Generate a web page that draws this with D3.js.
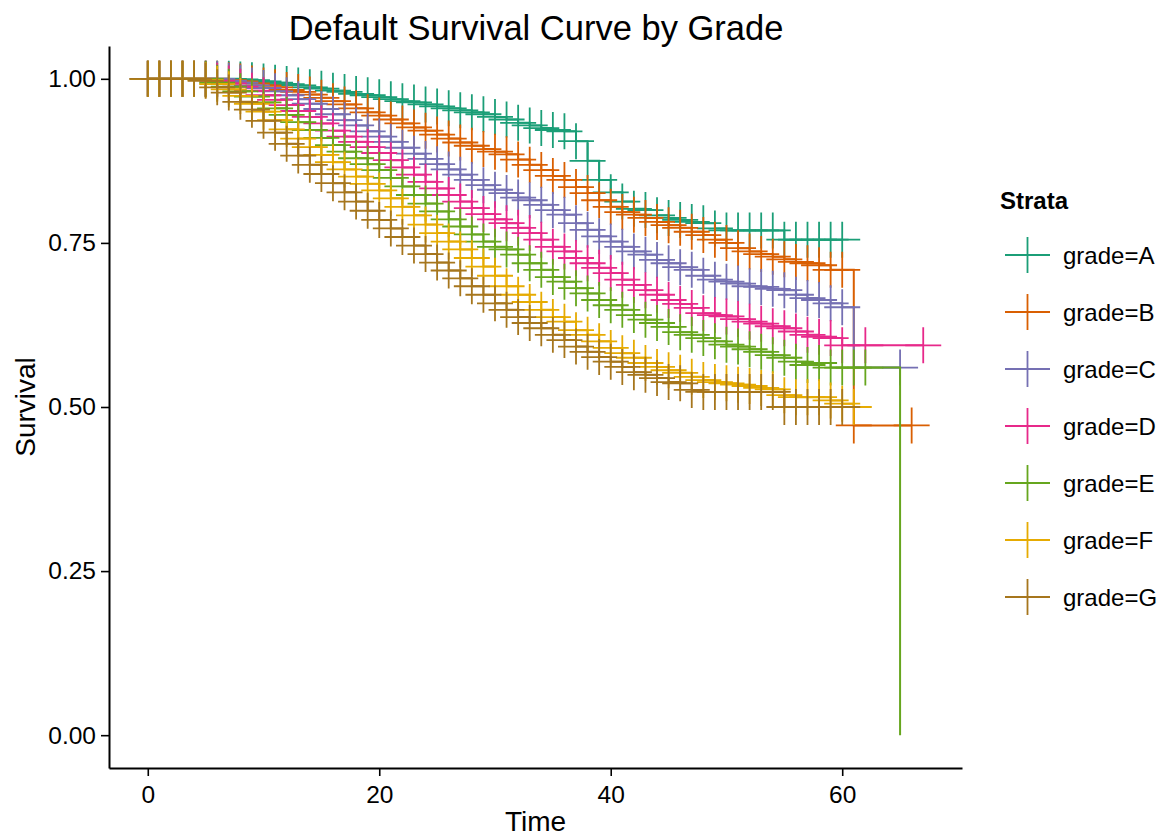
<!DOCTYPE html>
<html>
<head>
<meta charset="utf-8">
<script src="https://cdn.jsdelivr.net/npm/d3@7"></script>
<style>
  body { margin: 0; background: #fff; }
  text { font-family: "Liberation Sans", Arial, sans-serif; fill: #000; }
</style>
</head>
<body>
<div id="chart"></div>
<script>
// survival level at each month (index = month); null = no observation that month
var survA = [1.000,1.000,1.000,1.000,1.000,1.000,1.000,1.000,0.999,0.998,
             0.996,0.994,0.992,0.990,0.987,0.985,0.982,0.980,0.977,0.975,
             0.972,0.969,0.966,0.964,0.961,0.958,0.955,0.952,0.949,0.946,
             0.942,0.938,0.933,0.929,0.925,0.922,0.920,0.905,0.875,0.846,
             0.827,0.813,0.802,0.800,0.792,0.788,0.785,0.782,0.780,0.772,
             0.769,0.769,0.769,0.769,0.769,0.755,0.755,0.755,0.755,0.755,
             0.755];
var survB = [1.000,1.000,1.000,1.000,1.000,1.000,1.000,0.998,0.996,0.993,
             0.990,0.987,0.983,0.980,0.976,0.971,0.966,0.961,0.955,0.949,
             0.944,0.938,0.932,0.926,0.921,0.915,0.909,0.903,0.898,0.893,
             0.889,0.885,0.877,0.869,0.861,0.852,0.846,0.835,0.826,0.815,
             0.805,0.797,0.793,0.788,0.782,0.777,0.773,0.767,0.762,0.755,
             0.750,0.742,0.737,0.733,0.729,0.725,0.721,0.719,0.716,0.709,
             0.709,0.472,null,null,null,null,0.472];
var survC = [1.000,1.000,1.000,1.000,1.000,1.000,1.000,0.997,0.994,0.990,
             0.986,0.981,0.975,0.969,0.962,0.954,0.946,0.937,0.929,0.920,
             0.912,0.904,0.895,0.886,0.878,0.870,0.862,0.854,0.846,0.838,
             0.831,0.826,0.819,0.815,0.808,0.800,0.793,0.780,0.770,0.760,
             0.752,0.744,0.737,0.732,0.724,0.719,0.713,0.709,0.700,0.694,
             0.691,0.688,0.684,0.683,0.680,0.678,0.671,0.666,0.663,0.658,
             0.652,0.560,null,null,null,0.560];
var survD = [1.000,1.000,1.000,1.000,1.000,1.000,0.997,0.993,0.988,0.982,
             0.975,0.968,0.960,0.951,0.942,0.932,0.921,0.912,0.904,0.896,
             0.887,0.876,0.865,0.854,0.843,0.833,0.823,0.813,0.803,0.794,
             0.786,0.780,0.773,0.765,0.755,0.744,0.737,0.727,0.719,0.712,
             0.704,0.694,0.686,0.678,0.671,0.663,0.657,0.651,0.643,0.640,
             0.638,0.634,0.630,0.627,0.623,0.620,0.615,0.610,0.607,0.605,
             0.594,null,0.594,null,null,null,null,0.594];
var survE = [1.000,1.000,1.000,1.000,1.000,1.000,0.994,0.988,0.981,0.973,
             0.964,0.955,0.945,0.934,0.922,0.910,0.899,0.889,0.879,0.870,
             0.861,0.849,0.836,0.823,0.810,0.798,0.786,0.775,0.763,0.752,
             0.744,0.740,0.732,0.719,0.709,0.698,0.691,0.681,0.673,0.663,
             0.655,0.648,0.640,0.633,0.628,0.622,0.614,0.610,0.605,0.600,
             0.595,0.592,0.588,0.584,0.579,0.575,0.569,0.564,0.567,0.560,
             0.560,0.560,0.560,null,null,0.000];
var survF = [1.000,1.000,1.000,1.000,1.000,0.998,0.992,0.984,0.974,0.962,
             0.950,0.937,0.923,0.909,0.896,0.884,0.873,0.862,0.851,0.840,
             0.830,0.818,0.805,0.792,0.778,0.765,0.752,0.740,0.727,0.714,
             0.700,0.684,0.671,0.660,0.648,0.637,0.630,0.617,0.610,0.600,
             0.590,0.582,0.575,0.567,0.561,0.556,0.552,0.546,0.541,0.538,
             0.536,0.534,0.532,0.529,0.527,0.518,0.515,0.515,0.515,0.510,
             0.505,0.500];
var survG = [1.000,1.000,1.000,1.000,1.000,0.997,0.987,0.979,0.965,0.953,
             0.936,0.918,0.901,0.883,0.869,0.855,0.841,0.827,0.813,0.799,
             0.785,0.772,0.759,0.746,0.733,0.720,0.708,0.696,0.684,0.671,
             0.658,0.648,0.637,0.628,0.620,0.610,0.602,0.592,0.584,0.576,
             0.569,0.561,0.553,0.549,0.544,0.538,0.536,0.526,0.523,0.523,
             0.523,0.523,0.523,0.523,0.523,0.500,0.500,0.500,0.500,0.500,
             0.500];

// months with a drop but no censor mark
var unmarkedC = [61], unmarkedD = [61], unmarkedE = [65];

var strata = ["grade=A","grade=B","grade=C","grade=D","grade=E","grade=F","grade=G"];
var colors = ["#1B9E77","#D95F02","#7570B3","#E7298A","#66A61E","#E6AB02","#A6761D"];
var yTicks = [0, 0.25, 0.5, 0.75, 1];
var xTicks = [0, 20, 40, 60];

var series = [
  {name: strata[0], values: survA, unmarked: []},
  {name: strata[1], values: survB, unmarked: []},
  {name: strata[2], values: survC, unmarked: unmarkedC},
  {name: strata[3], values: survD, unmarked: unmarkedD},
  {name: strata[4], values: survE, unmarked: unmarkedE},
  {name: strata[5], values: survF, unmarked: []},
  {name: strata[6], values: survG, unmarked: []}
];

var width = 1161, height = 836;
var pLeft = 109, pRight = 962, pTop = 46, pBottom = 768;
var cross = 18;

var svg = d3.select("#chart").append("svg")
  .attr("width", width)
  .attr("height", height);

var x = d3.scaleLinear().domain([-3.35, 70.35]).range([pLeft, pRight]);
var y = d3.scaleLinear().domain([-0.05, 1.05]).range([pBottom, pTop]);

var line = d3.line()
  .x(function(d) { return x(d.t); })
  .y(function(d) { return y(d.s); })
  .curve(d3.curveStepAfter);

series.forEach(function(s, i) {
  var pts = [];
  s.values.forEach(function(v, t) { if (v != null) pts.push({t: t, s: v}); });
  var g = svg.append("g");
  g.append("path")
    .datum(pts)
    .attr("fill", "none")
    .attr("stroke", colors[i])
    .attr("stroke-width", 2)
    .attr("d", line);
  g.selectAll(".censor")
    .data(pts.filter(function(d) { return s.unmarked.indexOf(d.t) < 0; }))
    .enter().append("path")
    .attr("class", "censor")
    .attr("fill", "none")
    .attr("stroke", colors[i])
    .attr("stroke-width", 1.8)
    .attr("d", function(d) {
      var cx = x(d.t), cy = y(d.s);
      return "M" + (cx - cross) + "," + cy + "h" + (2 * cross) +
             "M" + cx + "," + (cy - cross) + "v" + (2 * cross);
    });
});

// axes
var yAxis = svg.append("g")
  .attr("transform", "translate(" + pLeft + ",0)")
  .call(d3.axisLeft(y).tickValues(yTicks).tickFormat(d3.format(".2f")).tickSize(8).tickSizeOuter(0).tickPadding(5));
var xAxis = svg.append("g")
  .attr("transform", "translate(0," + pBottom + ")")
  .call(d3.axisBottom(x).tickValues(xTicks).tickSize(8).tickSizeOuter(0).tickPadding(6));

[yAxis, xAxis].forEach(function(a) {
  a.select(".domain").attr("stroke", "#000").attr("stroke-width", 2);
  a.selectAll(".tick line").attr("stroke", "#000").attr("stroke-width", 1.6);
  a.selectAll(".tick text").attr("font-size", 24.5).attr("fill", "#000")
    .style("font-family", "'Liberation Sans', Arial, sans-serif");
});
xAxis.selectAll(".tick text").attr("dy", "0.85em");

svg.append("text")
  .attr("x", 536).attr("y", 40)
  .attr("text-anchor", "middle")
  .attr("font-size", 34.5)
  .text("Default Survival Curve by Grade");

svg.append("text")
  .attr("x", (pLeft + pRight) / 2).attr("y", 831)
  .attr("text-anchor", "middle")
  .attr("font-size", 28)
  .text("Time");

svg.append("text")
  .attr("transform", "translate(35," + (pTop + pBottom) / 2 + ") rotate(-90)")
  .attr("text-anchor", "middle")
  .attr("font-size", 28)
  .text("Survival");

// legend
var legend = svg.append("g");
legend.append("text")
  .attr("x", 1000).attr("y", 209)
  .attr("font-size", 24)
  .attr("font-weight", "bold")
  .text("Strata");

var item = legend.selectAll(".item")
  .data(strata)
  .enter().append("g")
  .attr("class", "item")
  .attr("transform", function(d, i) { return "translate(0," + (255 + i * 57) + ")"; });

item.append("path")
  .attr("fill", "none")
  .attr("stroke", function(d, i) { return colors[i]; })
  .attr("stroke-width", 1.8)
  .attr("d", "M1005,0h45M1027.5,-18v36");

item.append("text")
  .attr("x", 1063).attr("y", 9)
  .attr("font-size", 24)
  .text(function(d) { return d; });
</script>
</body>
</html>
